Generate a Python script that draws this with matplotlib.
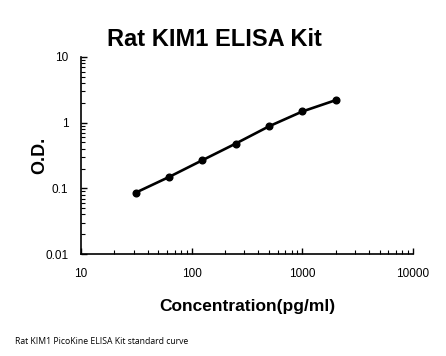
import matplotlib.pyplot as plt
from matplotlib.ticker import LogLocator, FixedLocator, FixedFormatter, NullFormatter

# standard curve data
conc = [31.25, 62.5, 125, 250, 500, 1000, 2000]
od = [0.086, 0.149, 0.268, 0.48, 0.88, 1.48, 2.2]

x_ticks = [10, 100, 1000, 10000]
x_labels = ["10", "100", "1000", "10000"]
y_ticks = [0.01, 0.1, 1, 10]
y_labels = ["0.01", "0.1", "1", "10"]

plt.rcParams['font.family'] = ['Liberation Sans', 'DejaVu Sans']

fig = plt.figure(figsize=(4.46, 3.56), dpi=100)
ax = fig.add_axes([0.1816, 0.2865, 0.7444, 0.5534])

ax.plot(conc, od, color='black', linewidth=1.9, marker='o', markersize=4.8)

ax.set_xscale('log')
ax.set_yscale('log')
ax.set_xlim(10, 10000)
ax.set_ylim(0.01, 10)

ax.xaxis.set_major_locator(FixedLocator(x_ticks))
ax.xaxis.set_major_formatter(FixedFormatter(x_labels))
ax.yaxis.set_major_locator(FixedLocator(y_ticks))
ax.yaxis.set_major_formatter(FixedFormatter(y_labels))
ax.xaxis.set_minor_locator(LogLocator(base=10, subs=range(2, 10)))
ax.yaxis.set_minor_locator(LogLocator(base=10, subs=range(2, 10)))
ax.xaxis.set_minor_formatter(NullFormatter())
ax.yaxis.set_minor_formatter(NullFormatter())

ax.spines['top'].set_visible(False)
ax.spines['right'].set_visible(False)
ax.spines['left'].set_linewidth(1.2)
ax.spines['bottom'].set_linewidth(1.2)

ax.tick_params(which='major', direction='in', length=4, width=1, labelsize=8.5)
ax.tick_params(axis='x', which='major', pad=10)
ax.tick_params(axis='y', which='major', pad=9)
ax.tick_params(which='minor', direction='in', length=3, width=0.8)

# title sits left of the axes centre in the reference
fig.text(0.481, 0.888, "Rat KIM1 ELISA Kit", fontsize=17, fontweight='bold',
         ha='center', va='center')
ax.set_xlabel("Concentration(pg/ml)", fontsize=12.5, fontweight='bold', labelpad=14)
ax.set_ylabel("O.D.", fontsize=13, fontweight='bold', labelpad=-2)

fig.text(0.034, 0.042, "Rat KIM1 PicoKine ELISA Kit standard curve", fontsize=6.2,
         family=['Open Sans', 'DejaVu Sans'], va='center')

plt.savefig("out.png", dpi=100)
